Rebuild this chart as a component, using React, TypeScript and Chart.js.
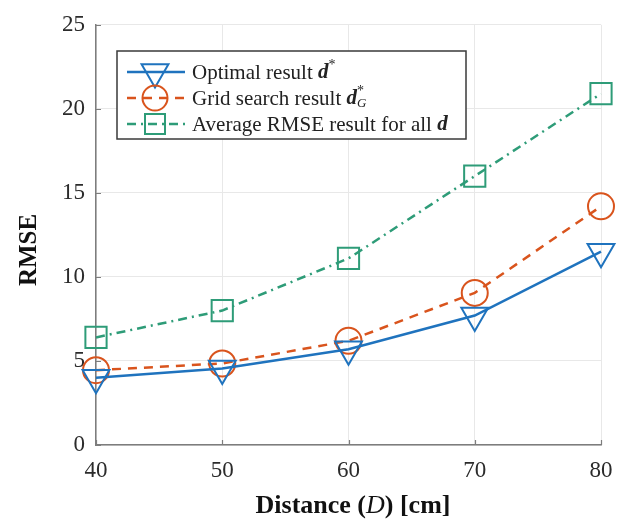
import { useEffect, useRef } from 'react';
import { Chart, registerables } from 'chart.js';

Chart.register(...registerables);

// Distance (cm) and RMSE for the three evaluated strategies
const distances = [40, 50, 60, 70, 80];
const optimalRmse = [4.0, 4.55, 5.7, 7.7, 11.5];
const gridSearchRmse = [4.45, 4.85, 6.2, 9.05, 14.2];
const averageRmse = [6.4, 8.0, 11.1, 16.0, 20.9];

const xTicks = [40, 50, 60, 70, 80];
const yTicks = [0, 5, 10, 15, 20, 25];

const BLUE = '#1f73be';
const ORANGE = '#d9541d';
const GREEN = '#2e9c78';
const SERIF = "'Liberation Serif', 'DejaVu Serif', serif";

type Seg = { t: string; font: string; dy?: number; keepX?: boolean };

function drawRich(ctx: CanvasRenderingContext2D, x: number, y: number, segs: Seg[]) {
  let cx = x;
  let lastStart = x;
  for (const s of segs) {
    ctx.font = s.font;
    const startX = s.keepX ? lastStart : cx;
    ctx.fillText(s.t, startX, y + (s.dy || 0));
    lastStart = cx;
    const w = ctx.measureText(s.t).width;
    if (!s.keepX) cx = startX + w;
    else cx = Math.max(cx, startX + w);
  }
}

function richWidth(ctx: CanvasRenderingContext2D, segs: Seg[]) {
  let total = 0;
  for (const s of segs) {
    ctx.font = s.font;
    total += ctx.measureText(s.t).width;
  }
  return total;
}

function drawMarker(ctx: CanvasRenderingContext2D, kind: string, x: number, y: number, color: string) {
  ctx.save();
  ctx.setLineDash([]);
  ctx.strokeStyle = color;
  ctx.lineWidth = 2;
  ctx.beginPath();
  if (kind === 'triangle') {
    const r = 15.5;
    ctx.moveTo(x, y + r);
    ctx.lineTo(x - r * Math.sin(Math.PI / 3), y - r / 2);
    ctx.lineTo(x + r * Math.sin(Math.PI / 3), y - r / 2);
    ctx.closePath();
  } else if (kind === 'circle') {
    ctx.arc(x, y, 12.5, 0, Math.PI * 2);
  } else {
    const h = 10;
    ctx.rect(x - h, y - h, 2 * h, 2 * h);
  }
  ctx.stroke();
  ctx.restore();
}

const legendRows = [
  {
    color: BLUE,
    dash: [] as number[],
    marker: 'triangle',
    segs: [
      { t: 'Optimal result ', font: `21px ${SERIF}` },
      { t: 'd', font: `italic bold 21px ${SERIF}` },
      { t: '*', font: `14px ${SERIF}`, dy: -8 },
    ] as Seg[],
  },
  {
    color: ORANGE,
    dash: [9, 7],
    marker: 'circle',
    segs: [
      { t: 'Grid search result ', font: `21px ${SERIF}` },
      { t: 'd', font: `italic bold 21px ${SERIF}` },
      { t: '*', font: `14px ${SERIF}`, dy: -8 },
      { t: 'G', font: `italic 13px ${SERIF}`, dy: 5, keepX: true },
    ] as Seg[],
  },
  {
    color: GREEN,
    dash: [9, 5, 2, 5],
    marker: 'rect',
    segs: [
      { t: 'Average RMSE result for all ', font: `21px ${SERIF}` },
      { t: 'd', font: `italic bold 21px ${SERIF}` },
    ] as Seg[],
  },
];

const decorations = {
  id: 'decorations',
  beforeDatasetsDraw(chart: Chart) {
    // short inward tick marks on the two axes
    const ctx = chart.ctx;
    const { left, bottom } = chart.chartArea;
    const xs: any = chart.scales.x;
    const ys: any = chart.scales.y;
    ctx.save();
    ctx.strokeStyle = '#7d7d7d';
    ctx.lineWidth = 1.2;
    ctx.beginPath();
    for (const v of yTicks) {
      const py = Math.round(ys.getPixelForValue(v)) + 0.5;
      ctx.moveTo(left, py);
      ctx.lineTo(left + 5, py);
    }
    for (const v of xTicks) {
      const px = Math.round(xs.getPixelForValue(v)) + 0.5;
      ctx.moveTo(px, bottom);
      ctx.lineTo(px, bottom - 5);
    }
    ctx.stroke();
    ctx.restore();
  },
  afterDraw(chart: Chart) {
    const ctx = chart.ctx;
    ctx.save();
    ctx.fillStyle = '#111';
    ctx.textBaseline = 'middle';

    // y-axis title
    ctx.save();
    ctx.translate(30, 250);
    ctx.rotate(-Math.PI / 2);
    ctx.textAlign = 'center';
    ctx.font = `bold 25px ${SERIF}`;
    ctx.fillText('RMSE', 0, 0);
    ctx.restore();

    // x-axis title
    ctx.textAlign = 'left';
    const xSegs: Seg[] = [
      { t: 'Distance (', font: `bold 26px ${SERIF}` },
      { t: 'D', font: `italic 26px ${SERIF}` },
      { t: ') [cm]', font: `bold 26px ${SERIF}` },
    ];
    drawRich(ctx, 353 - richWidth(ctx, xSegs) / 2, 506, xSegs);

    // legend box
    ctx.fillStyle = '#ffffff';
    ctx.fillRect(117, 51, 349, 88);
    ctx.strokeStyle = '#3a3a3a';
    ctx.lineWidth = 1.5;
    ctx.strokeRect(117, 51, 349, 88);

    const rowY = [72, 98, 124];
    legendRows.forEach((row, i) => {
      const y = rowY[i];
      ctx.save();
      ctx.strokeStyle = row.color;
      ctx.lineWidth = 2.5;
      ctx.setLineDash(row.dash);
      ctx.beginPath();
      ctx.moveTo(127, y);
      ctx.lineTo(185, y);
      ctx.stroke();
      ctx.restore();
    });
    legendRows.forEach((row, i) => {
      drawMarker(ctx, row.marker, 155, rowY[i], row.color);
    });
    ctx.fillStyle = '#222';
    legendRows.forEach((row, i) => {
      drawRich(ctx, 192, rowY[i] + 1, row.segs);
    });
    ctx.restore();
  },
};

export default function App() {
  const ref = useRef<HTMLCanvasElement | null>(null);

  useEffect(() => {
    if (!ref.current) return;
    const toPts = (vals: number[]) => distances.map((d, i) => ({ x: d, y: vals[i] }));
    const chart = new Chart(ref.current, {
      type: 'line',
      data: {
        datasets: [
          {
            label: 'Optimal result',
            data: toPts(optimalRmse),
            borderColor: BLUE,
            borderWidth: 2.5,
            pointStyle: 'triangle',
            rotation: 180,
            pointRadius: 15.5,
            pointBorderWidth: 2,
            pointBorderColor: BLUE,
            pointBackgroundColor: 'rgba(0,0,0,0)',
            clip: false,
          },
          {
            label: 'Grid search result',
            data: toPts(gridSearchRmse),
            borderColor: ORANGE,
            borderWidth: 2.5,
            borderDash: [9, 7],
            pointStyle: 'circle',
            pointRadius: 13,
            pointBorderWidth: 2,
            pointBorderColor: ORANGE,
            pointBackgroundColor: 'rgba(0,0,0,0)',
            clip: false,
          },
          {
            label: 'Average RMSE result for all d',
            data: toPts(averageRmse),
            borderColor: GREEN,
            borderWidth: 2.5,
            borderDash: [9, 5, 2, 5],
            pointStyle: 'rect',
            pointRadius: 15,
            pointBorderWidth: 2,
            pointBorderColor: GREEN,
            pointBackgroundColor: 'rgba(0,0,0,0)',
            clip: false,
          },
        ],
      },
      options: {
        responsive: false,
        animation: false,
        layout: { padding: { top: 21, right: 26, left: 0, bottom: 0 }, autoPadding: false },
        plugins: { legend: { display: false }, tooltip: { enabled: false } },
        scales: {
          x: {
            type: 'linear',
            min: 40,
            max: 80,
            afterBuildTicks: (s: any) => {
              s.ticks = xTicks.map((v) => ({ value: v }));
            },
            afterFit: (s: any) => {
              s.height = 78;
            },
            grid: { color: '#e8e8e8', lineWidth: 1, drawTicks: false },
            border: { color: '#7d7d7d', width: 1.5 },
            ticks: {
              padding: 12,
              color: '#2b2b2b',
              font: { family: SERIF, size: 23 },
            },
          },
          y: {
            type: 'linear',
            min: 0,
            max: 25,
            afterBuildTicks: (s: any) => {
              s.ticks = yTicks.map((v) => ({ value: v }));
            },
            afterFit: (s: any) => {
              s.width = 96;
            },
            grid: { color: '#e8e8e8', lineWidth: 1, drawTicks: false },
            border: { color: '#7d7d7d', width: 1.5 },
            ticks: {
              padding: 11,
              color: '#2b2b2b',
              font: { family: SERIF, size: 23 },
            },
          },
        },
      },
      plugins: [decorations],
    });
    return () => chart.destroy();
  }, []);

  return (
    <div style={{ position: 'fixed', left: 0, top: 0, width: 627, height: 523, background: '#fff' }}>
      <canvas ref={ref} width={627} height={523} />
    </div>
  );
}
